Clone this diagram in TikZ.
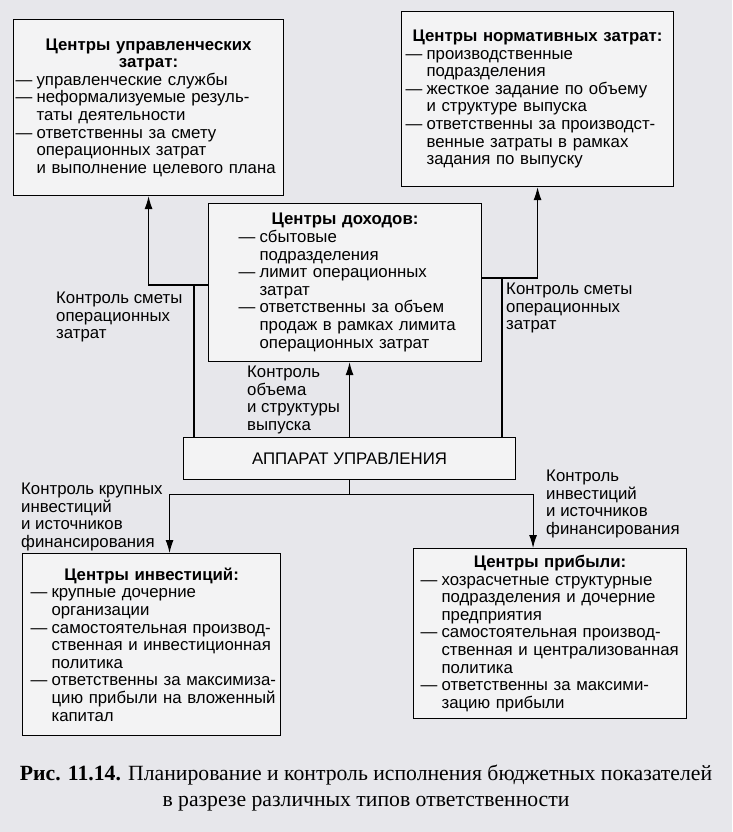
\documentclass[tikz,border=0pt]{standalone}
\usepackage{fontspec}
\setmainfont{Liberation Sans}
\newfontfamily\capfont{Liberation Serif}
\usetikzlibrary{arrows.meta}
\definecolor{paper}{RGB}{231,231,235}
\definecolor{boxfill}{RGB}{243,243,244}
\newcommand\fs{\fontsize{16.8}{17.6}\selectfont}
\newcommand\dd[1]{\mbox{\makebox[21pt][l]{—}#1}}
\newcommand\ii[1]{\mbox{\hspace*{21pt}#1}}
\newcommand\ttl[1]{{\centering\bfseries #1\par}}

\begin{document}
\begin{tikzpicture}[x=1pt,y=-1pt,
  box/.style={draw,line width=1.1pt,fill=boxfill,align=left,anchor=north west,inner ysep=0pt,font=\fs},
  lbl/.style={align=left,anchor=north west,inner sep=0pt,font=\fs},
  ln/.style={line width=1.1pt},
  arr/.style={ln,-{Latex[length=13pt,width=8pt]}}]
  \fill[paper] (0,0) rectangle (732,832);
  \useasboundingbox (0,0) rectangle (732,832);

  \node[box,inner xsep=2pt,text width=266pt,minimum height=176pt] (upr) at (13,19)
    {\ttl{Центры управленческих\\затрат:}\dd{управленческие службы}\\\dd{неформализуемые резуль-}\\\ii{таты деятельности}\\\dd{ответственны за смету}\\\ii{операционных затрат}\\\ii{и выполнение целевого плана}};
  \node[box,inner xsep=4pt,text width=264pt,minimum height=175pt] (norm) at (401,11)
    {\ttl{Центры нормативных затрат:}\dd{производственные}\\\ii{подразделения}\\\dd{жесткое задание по объему}\\\ii{и структуре выпуска}\\\dd{ответственны за производст-}\\\ii{венные затраты в рамках}\\\ii{задания по выпуску}};
  \node[box,inner xsep=30pt,text width=213pt,minimum height=158pt] (doh) at (208,203)
    {\ttl{Центры доходов:}\dd{сбытовые}\\\ii{подразделения}\\\dd{лимит операционных}\\\ii{затрат}\\\dd{ответственны за объем}\\\ii{продаж в рамках лимита}\\\ii{операционных затрат}};
  \node[draw,ln,fill=boxfill,anchor=north west,minimum width=332pt,minimum height=42pt,font=\fs] (app) at (183,437) {АППАРАТ УПРАВЛЕНИЯ};
  \node[box,inner xsep=8pt,text width=242pt,minimum height=182pt] (inv) at (22,553)
    {\ttl{Центры инвестиций:}\dd{крупные дочерние}\\\ii{организации}\\\dd{самостоятельная производ-}\\\ii{ственная и инвестиционная}\\\ii{политика}\\\dd{ответственны за максимиза-}\\\ii{цию прибыли на вложенный}\\\ii{капитал}};
  \node[box,inner xsep=7pt,text width=259pt,minimum height=170pt] (prib) at (413,548)
    {\ttl{Центры прибыли:}\dd{хозрасчетные структурные}\\\ii{подразделения и дочерние}\\\ii{предприятия}\\\dd{самостоятельная производ-}\\\ii{ственная и централизованная}\\\ii{политика}\\\dd{ответственны за максими-}\\\ii{зацию прибыли}};

  \coordinate (kl) at (194,285);
  \coordinate (kr) at (502,278);
  \coordinate (kb) at ([yshift=-14pt]app.south);
  \draw[ln] (app.north -| kl) -- (kl);
  \draw[arr] (doh.west |- kl) -| (upr.south);
  \draw[ln] (app.north -| kr) -- (kr);
  \draw[arr] (doh.east |- kr) -| (norm.south);
  \draw[arr] (app.north) -- (app.north |- doh.south);
  \draw[ln] (app.south) -- (kb);
  \draw[arr] (kb) -| ([xshift=18pt]inv.north);
  \draw[arr] (kb) -| ([xshift=-17pt]prib.north);

  \node[lbl] (l1) at (56,292) {Контроль сметы\\операционных\\затрат};
  \node[lbl] (l2) at (506,283) {Контроль сметы\\операционных\\затрат};
  \node[lbl] (l3) at (247,366) {Контроль\\объема\\и структуры\\выпуска};
  \node[lbl] (l4) at (21,483) {Контроль крупных\\инвестиций\\и источников\\финансирования};
  \node[lbl] (l5) at (546,470) {Контроль\\инвестиций\\и источников\\финансирования};

  \node[font=\capfont\fontsize{21.7}{26}\selectfont,align=center,anchor=north,inner sep=0pt] (cap) at (366,765)
    {\textbf{Рис. 11.14.} Планирование и контроль исполнения бюджетных показателей\\в разрезе различных типов ответственности};
\end{tikzpicture}
\end{document}
